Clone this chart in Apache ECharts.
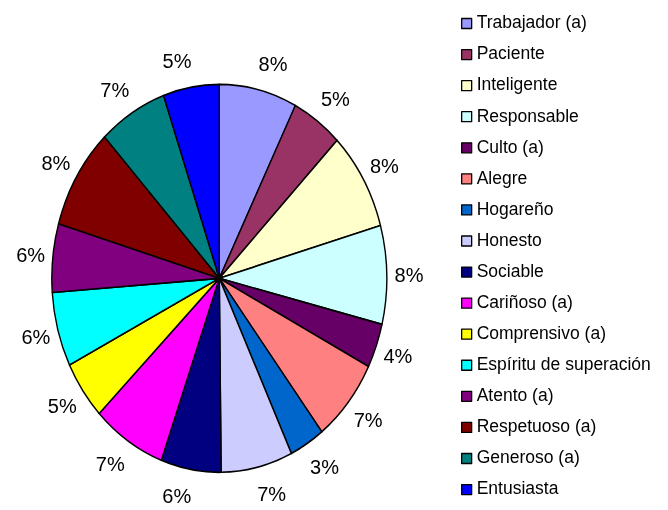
<!DOCTYPE html>
<html>
<head>
<meta charset="utf-8">
<script src="https://cdn.jsdelivr.net/npm/echarts@6/dist/echarts.min.js"></script>
<style>
html, body { margin: 0; padding: 0; background: #fff; }
.capa { position: absolute; left: 0; top: 0; width: 668px; height: 510px; }
/* the pie in the picture is an ellipse, so the pie layer is stretched vertically */
#torta { transform: scaleY(1.1582); transform-origin: 219.3px 278.3px; pointer-events: none; }
</style>
</head>
<body>
<div id="base" class="capa"></div>
<div id="torta" class="capa"></div>
<script>
const categorias = [
  'Trabajador (a)', 'Paciente', 'Inteligente', 'Responsable', 'Culto (a)', 'Alegre',
  'Hogareño', 'Honesto', 'Sociable', 'Cariñoso (a)', 'Comprensivo (a)',
  'Espíritu de superación', 'Atento (a)', 'Respetuoso (a)', 'Generoso (a)', 'Entusiasta'
]
const valores = [7.5, 4.9, 8.2, 8.2, 3.7, 7.0, 3.4, 6.9, 5.8, 7.1, 4.9, 6.2, 5.7, 8.45, 6.6, 5.4]
const colores = [
  '#9999ff', '#993366', '#ffffcc', '#ccffff', '#660066', '#ff8080',
  '#0066cc', '#ccccff', '#000080', '#ff00ff', '#ffff00',
  '#00ffff', '#800080', '#800000', '#008080', '#0000ff'
]

const datos = categorias.map((nombre, i) => ({ name: nombre, value: valores[i] }))
const fuente = '"Liberation Sans", Arial, sans-serif'
const estiramiento = 1.245 // vertical stretch for the labels around the ellipse
const centroY = 280

// bottom layer: legend and percentage labels (unstretched text)
const base = echarts.init(document.getElementById('base'))
base.setOption({
  animation: false,
  color: colores,
  legend: {
    orient: 'vertical',
    left: 456,
    top: 8.5,
    itemWidth: 10,
    itemHeight: 10,
    itemGap: 11.07,
    icon: 'rect',
    itemStyle: { borderColor: '#000', borderWidth: 1.3 },
    textStyle: { fontFamily: fuente, fontSize: 17.5, color: '#000', lineHeight: 20 },
    data: categorias
  },
  series: [
    {
      type: 'pie',
      center: [219.3, centroY],
      radius: 160,
      startAngle: 90,
      avoidLabelOverlap: false,
      silent: true,
      data: datos,
      label: {
        show: true,
        position: 'outside',
        fontFamily: fuente,
        fontSize: 20,
        color: '#000',
        distanceToLabelLine: -2.2,
        formatter: p => Math.round(p.percent) + '%'
      },
      labelLine: { show: false, length: 17.45, length2: 0 },
      labelLayout: params => {
        const r = params.labelRect
        const y = r.y + r.height / 2
        return { dy: (y - centroY) * (estiramiento - 1) }
      }
    }
  ]
})

// top layer: the pie itself, stretched into an ellipse
const torta = echarts.init(document.getElementById('torta'), null, { renderer: 'svg' })
torta.setOption({
  animation: false,
  color: colores,
  series: [
    {
      type: 'pie',
      center: [219.3, 278.3],
      radius: 167.5,
      startAngle: 90,
      silent: true,
      data: datos,
      label: { show: false },
      labelLine: { show: false },
      itemStyle: { borderColor: '#000', borderWidth: 1.4 },
      emphasis: { disabled: true }
    }
  ]
})
</script>
</body>
</html>
